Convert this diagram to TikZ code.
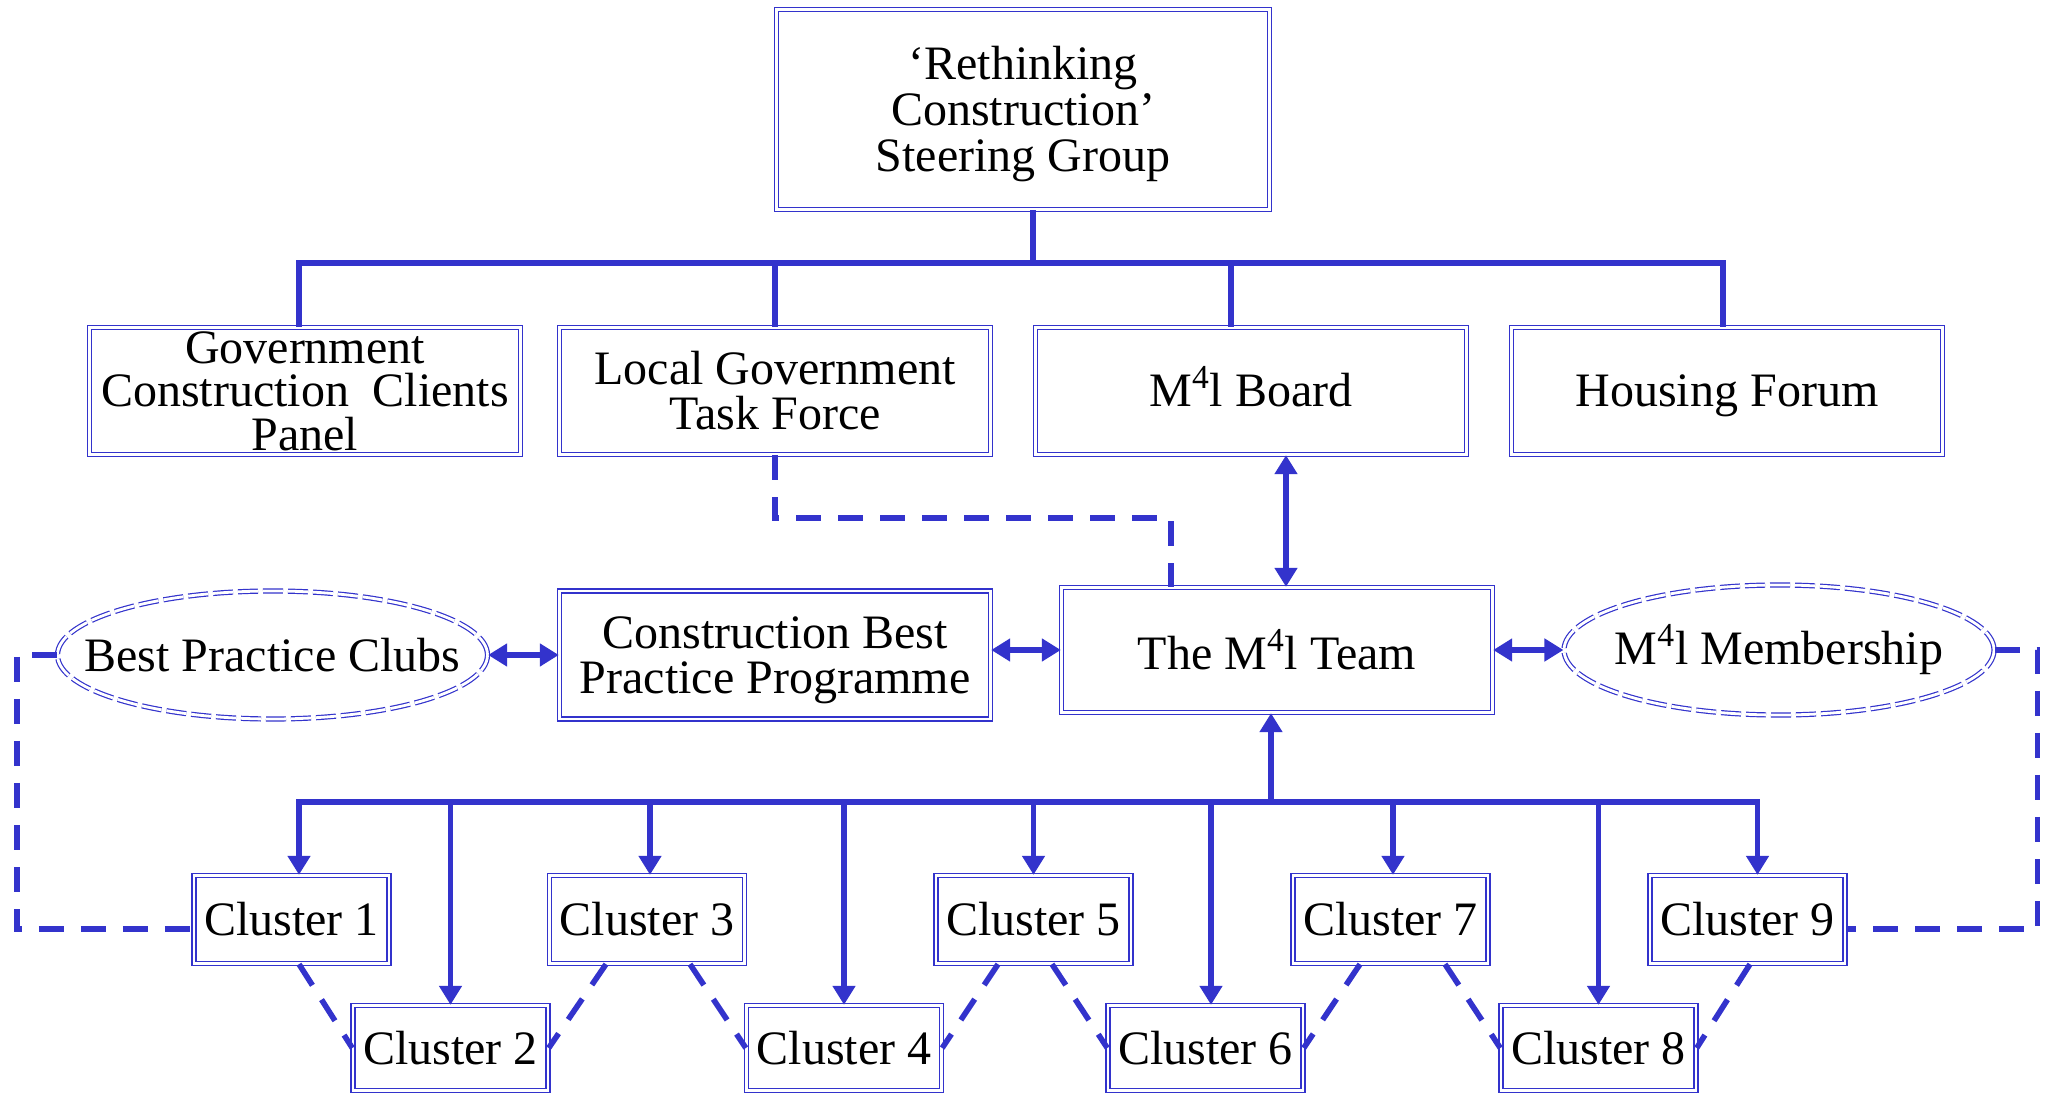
\documentclass[tikz,border=0pt]{standalone}
\usepackage{fontspec}
\setmainfont{Liberation Serif}
\usetikzlibrary{arrows.meta,shapes.geometric}
\definecolor{bl}{RGB}{51,51,204}
\begin{document}
\begin{tikzpicture}[x=0.5pt,y=-0.5pt,
  every node/.style={font=\fontsize{24pt}{22.5pt}\selectfont, text=black},
  rbox/.style={draw=bl, double=white, line width=0.7pt, double distance=1.3pt, inner sep=0pt, align=center, minimum width=215.5pt, minimum height=63.5pt},
  cbox/.style={rbox, minimum width=97.5pt, minimum height=44pt},
  ovalnode/.style={ellipse, draw=bl, double=white, line width=0.6pt, double distance=1.4pt, dash pattern=on 10pt off 2.5pt, inner sep=0pt, minimum width=215pt, minimum height=64pt},
  conn/.style={draw=bl, line width=2.8pt},
  dconn/.style={conn, dash pattern=on 12.5pt off 8.5pt},
  arr/.style={-{Triangle[length=9.5pt,width=11pt]}},
  darr/.style={{Triangle[length=9.5pt,width=11pt]}-{Triangle[length=9.5pt,width=11pt]}},
]
\fill[white] (0,0) rectangle (2056,1095);
\useasboundingbox (0,0) rectangle (2056,1095);

% nodes
\node[rbox, minimum width=246.5pt, minimum height=100pt, font=\fontsize{24pt}{23pt}\selectfont] (top) at (1023,109.5) {\rule{0pt}{21pt}‘Rethinking\\Construction’\\Steering Group};

\node[rbox, font=\fontsize{24pt}{21.8pt}\selectfont] (gccp) at (305,391) {Government\\Construction\enspace Clients\\Panel};
\node[rbox] (lgtf) at (775,391) {Local Government\\Task Force};
\node[rbox] (board) at (1251,391) {\raisebox{0pt}[16pt][0pt]{M\textsuperscript{4}l Board}};
\node[rbox] (housing) at (1727,391) {\raisebox{0pt}[16pt][0pt]{Housing Forum}};

\node[ovalnode] (bpc) at (272.5,655) {\makebox[0pt]{Best Practice Clubs}};
\node[rbox, minimum height=64pt] (cbpp) at (775,655) {\rule{0pt}{21pt}Construction Best\\Practice Programme};
\node[rbox, minimum height=62.5pt] (team) at (1277,650) {The M\textsuperscript{4}l Team};
\node[ovalnode, minimum height=65pt] (mem) at (1779,650) {\makebox[0pt]{M\textsuperscript{4}l Membership}};

\node[cbox] (c1) at (291.5,919.5) {Cluster 1};
\node[cbox] (c3) at (647,919.5) {Cluster 3};
\node[cbox] (c5) at (1033.5,919.5) {Cluster 5};
\node[cbox] (c7) at (1390.5,919.5) {Cluster 7};
\node[cbox] (c9) at (1747.5,919.5) {Cluster 9};
\node[cbox, minimum height=42.5pt] (c2) at (450.5,1048) {Cluster 2};
\node[cbox, minimum height=42.5pt] (c4) at (844,1048) {Cluster 4};
\node[cbox, minimum height=42.5pt] (c6) at (1205.5,1048) {Cluster 6};
\node[cbox, minimum height=42.5pt] (c8) at (1598.5,1048) {Cluster 8};

% top tree
\coordinate (tb) at (1033,263);
\draw[conn] (top.south -| tb) -- (tb);
\draw[conn] ([xshift=-3pt]gccp.north) |- (tb) -| ([xshift=-2pt]housing.north);
\draw[conn] (lgtf.north) |- (tb);
\draw[conn] ([xshift=-10pt]board.north) |- (tb);

% board <-> team
\path ([xshift=17.5pt]board.south) coordinate (ba);
\draw[conn,darr] (ba) -- (ba |- team.north);

% middle row arrows
\draw[conn,darr] (bpc.east) -- (cbpp.west);
\draw[conn,darr] (team.west -| cbpp.east) -- (team.west);
\draw[conn,darr] (team.east) -- (mem.west);

% cluster bus
\coordinate (cb) at (1271,802);
\draw[conn,arr] (cb) -- (cb |- team.south);
\draw[conn,arr] (cb) -| ([xshift=3.75pt]c1.north);
\draw[conn,arr] (cb) -| (c2.north);
\draw[conn,arr] (cb) -| ([xshift=1.5pt]c3.north);
\draw[conn,arr] (cb) -| (c4.north);
\draw[conn,arr] (cb) -| (c5.north);
\draw[conn,arr] (cb) -| ([xshift=2.75pt]c6.north);
\draw[conn,arr] (cb) -| ([xshift=1.25pt]c7.north);
\draw[conn,arr] (cb) -| (c8.north);
\draw[conn,arr] (cb) -| ([xshift=5pt]c9.north);

% dashed links
\draw[dconn] (lgtf.south) -- ++(0,63) -| ([xshift=-53pt]team.north);
\draw[dconn] (bpc.west) -- ++(-40,0) |- ([yshift=-4.75pt]c1.west);
\draw[dconn] (mem.east) -- ++(43,0) |- ([yshift=-4.75pt]c9.east);

\draw[dconn] ([xshift=3.75pt]c1.south) -- (c2.west);
\draw[dconn] ([xshift=-20.5pt]c3.south) -- (c2.east);
\draw[dconn] ([xshift=21.5pt]c3.south) -- (c4.west);
\draw[dconn] ([xshift=-17.75pt]c5.south) -- (c4.east);
\draw[dconn] ([xshift=9.25pt]c5.south) -- (c6.west);
\draw[dconn] ([xshift=-15.25pt]c7.south) -- (c6.east);
\draw[dconn] ([xshift=27.25pt]c7.south) -- (c8.west);
\draw[dconn] ([xshift=1.25pt]c9.south) -- (c8.east);
\end{tikzpicture}
\end{document}
